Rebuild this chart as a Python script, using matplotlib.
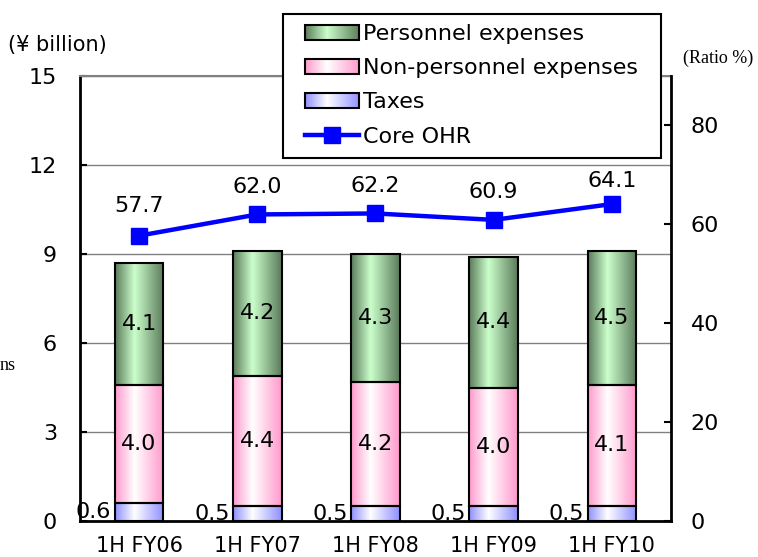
import numpy as np
import matplotlib
matplotlib.use("Agg")
import matplotlib.pyplot as plt
from matplotlib.colors import LinearSegmentedColormap
from matplotlib.image import BboxImage
from matplotlib.legend_handler import HandlerBase
from matplotlib.lines import Line2D
from matplotlib.patches import Rectangle
from matplotlib.transforms import Bbox, TransformedBbox

plt.rcParams['font.family'] = ['DejaVu Sans']

periods = ['1H FY06', '1H FY07', '1H FY08', '1H FY09', '1H FY10']
taxes = [0.6, 0.5, 0.5, 0.5, 0.5]
non_personnel = [4.0, 4.4, 4.2, 4.0, 4.1]
personnel = [4.1, 4.2, 4.3, 4.4, 4.5]
core_ohr = [57.7, 62.0, 62.2, 60.9, 64.1]

# how far (points) each OHR label sits above its marker
ohr_label_gap = [21.5, 20, 19.5, 20, 16.5]


def edge_cmap(name, edge, light):
    # dark at both edges, lightest a little left of centre
    return LinearSegmentedColormap.from_list(
        name, [(0.0, edge), (0.4, light), (1.0, edge)])


green = edge_cmap('green', '#5a7a5a', '#ccffcc')
pink = edge_cmap('pink', '#ff99cc', '#ffffff')
blue = edge_cmap('blue', '#8f8fff', '#ffffff')
grad = np.linspace(0, 1, 256).reshape(1, -1)


class GradientHandler(HandlerBase):
    def __init__(self, cmap):
        super().__init__()
        self.cmap = cmap

    def create_artists(self, legend, orig_handle, xdescent, ydescent,
                       width, height, fontsize, trans):
        bb = TransformedBbox(Bbox.from_bounds(-xdescent, -ydescent,
                                              width, height), trans)
        img = BboxImage(bb, cmap=self.cmap, interpolation='bilinear')
        img.set_data(grad)
        rect = Rectangle((-xdescent, -ydescent), width, height,
                         fc='none', ec='black', lw=1.5, transform=trans)
        return [img, rect]


fig = plt.figure(figsize=(7.58, 5.57), dpi=100)
ax = fig.add_axes([80 / 758, 1 - 521 / 557, 591 / 758, 445 / 557])

x = np.arange(len(periods))
w = 0.41

bottom = np.zeros(len(periods))
handles = []
for vals, cmap in [(taxes, blue), (non_personnel, pink), (personnel, green)]:
    bars = ax.bar(x, vals, w, bottom=bottom, fc='none', ec='black',
                  lw=1.5, zorder=3)
    for rect in bars:
        x0, y0 = rect.get_x(), rect.get_y()
        im = ax.imshow(grad, cmap=cmap, aspect='auto', zorder=2,
                       interpolation='bilinear',
                       extent=[x0, x0 + rect.get_width(),
                               y0, y0 + rect.get_height()])
        im.set_clip_path(rect)
    handles.append(bars)
    bottom = bottom + np.array(vals)

# segment values
for i in range(len(periods)):
    ax.text(x[i] - w / 2 - 0.03, taxes[i] / 2, f'{taxes[i]:.1f}',
            ha='right', va='center', fontsize=16, zorder=5)
    ax.text(x[i], taxes[i] + non_personnel[i] / 2, f'{non_personnel[i]:.1f}',
            ha='center', va='center', fontsize=16, zorder=5)
    ax.text(x[i], taxes[i] + non_personnel[i] + personnel[i] / 2,
            f'{personnel[i]:.1f}', ha='center', va='center', fontsize=16,
            zorder=5)

ax.set_xlim(-0.5, len(periods) - 0.5)
ax.set_ylim(0, 15)
ax.set_yticks(np.arange(0, 16, 3))
ax.set_xticks(x)
ax.set_xticklabels(periods)
ax.tick_params(axis='x', length=0, labelsize=15, pad=11)
ax.tick_params(axis='y', direction='in', length=5, width=1.5,
               labelsize=16, pad=16.5)
ax.yaxis.grid(True, color='#808080', lw=1)
ax.set_axisbelow(True)
for s in ['left', 'bottom']:
    ax.spines[s].set_linewidth(2)
ax.spines['top'].set_color('#808080')
ax.spines['top'].set_linewidth(1.5)
ax.spines['right'].set_visible(False)

ax2 = ax.twinx()
ax2.plot(x, core_ohr, color='#0000ff', lw=3.2, marker='s', ms=11.5, zorder=4)
for i, v in enumerate(core_ohr):
    ax2.annotate(f'{v:.1f}', (x[i], v), xytext=(0, ohr_label_gap[i]),
                 textcoords='offset points', ha='center', va='center',
                 fontsize=16)
ax2.set_ylim(0, 90)
ax2.set_yticks(np.arange(0, 81, 20))
ax2.tick_params(axis='y', direction='in', length=5, width=1.5,
                labelsize=16, pad=14)
ax2.spines['right'].set_linewidth(2)
for s in ['left', 'top', 'bottom']:
    ax2.spines[s].set_visible(False)

fig.text(8 / 758, 1 - 45 / 557, '(¥ billion)', fontsize=15, va='center')
fig.text(683 / 758, 1 - 58 / 557, '(Ratio %)', fontsize=13, va='center',
         family='Liberation Serif')
fig.text(0, 1 - 366 / 557, 'ns', fontsize=13, va='center',
         family='Liberation Serif')

# legend frame sits over the top of the plot area
fig.add_artist(Rectangle((283 / 758, 1 - 158 / 557), 378 / 758, 144 / 557,
                         transform=fig.transFigure, fc='white', ec='black',
                         lw=1.5, zorder=9))

line_handle = Line2D([], [], color='#0000ff', lw=3.2, marker='s', ms=11.5)
leg = fig.legend(
    [handles[2], handles[1], handles[0], line_handle],
    ['Personnel expenses', 'Non-personnel expenses', 'Taxes', 'Core OHR'],
    handler_map={handles[2]: GradientHandler(green),
                 handles[1]: GradientHandler(pink),
                 handles[0]: GradientHandler(blue)},
    loc='upper left', bbox_to_anchor=(305 / 758, 1 - 24 / 557),
    fontsize=16, frameon=False, handlelength=2.45, handleheight=0.68,
    handletextpad=0.15, labelspacing=0.64, borderpad=0, borderaxespad=0)
leg.set_zorder(10)

fig.savefig('out.png', dpi=100)
